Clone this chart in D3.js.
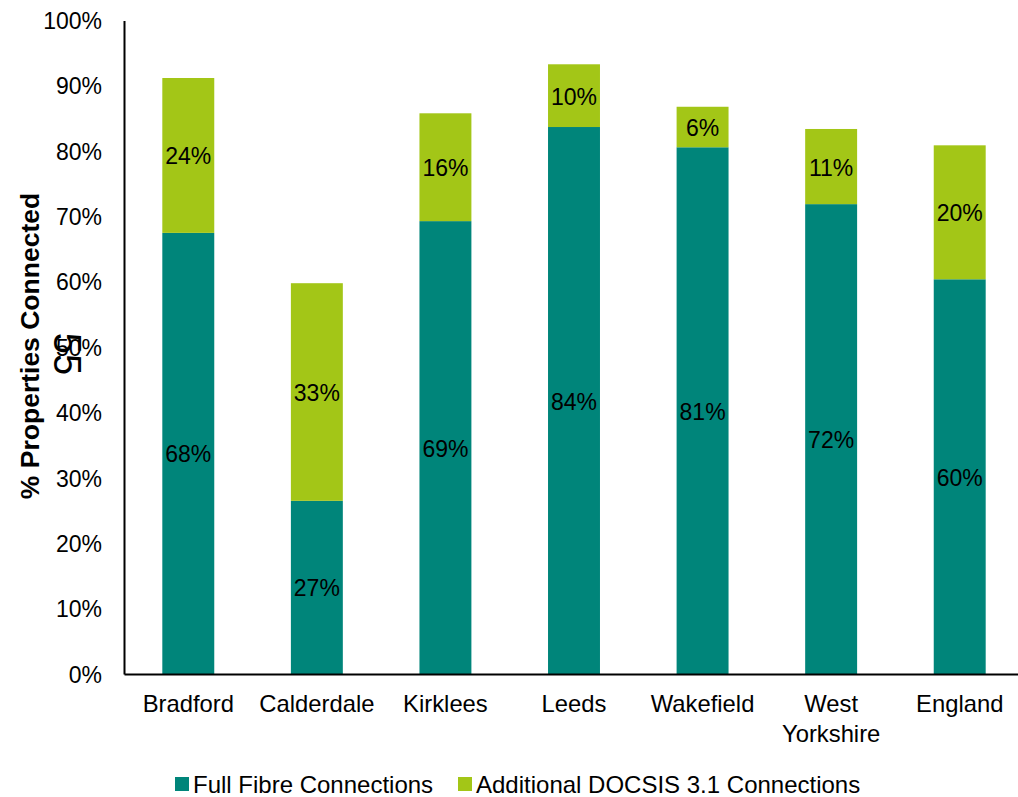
<!DOCTYPE html>
<html>
<head>
<meta charset="utf-8">
<script src="https://cdn.jsdelivr.net/npm/d3@7"></script>
<style>
  html, body { margin: 0; padding: 0; background: #fff; }
  svg { display: block; font-family: Arial, "Liberation Sans", sans-serif; }
</style>
</head>
<body>
<svg id="chart" width="1018" height="797"></svg>
<script>
const categories = ["Bradford", "Calderdale", "Kirklees", "Leeds", "Wakefield", "West Yorkshire", "England"];
const fullFibre = [0.675, 0.265, 0.693, 0.837, 0.806, 0.719, 0.604];
const additionalDocsis = [0.237, 0.333, 0.165, 0.096, 0.062, 0.115, 0.205];
const fullFibreLabels = ["68%", "27%", "69%", "84%", "81%", "72%", "60%"];
const docsisLabels = ["24%", "33%", "16%", "10%", "6%", "11%", "20%"];
const yTicks = [0, 0.1, 0.2, 0.3, 0.4, 0.5, 0.6, 0.7, 0.8, 0.9, 1.0];
const seriesNames = ["Full Fibre Connections", "Additional DOCSIS 3.1 Connections"];
const colors = ["#00857a", "#a3c617"];

const svg = d3.select("#chart");
const x = d3.scaleBand().domain(categories).range([124, 1024]).paddingInner(0.596).paddingOuter(0.298);
const y = d3.scaleLinear().domain([0, 1]).range([674, 20.5]);

const rows = categories.map((c, i) => ({cat: c, ff: fullFibre[i], ad: additionalDocsis[i], ffl: fullFibreLabels[i], adl: docsisLabels[i]}));

// bars
const g = svg.append("g");
g.selectAll("rect.ff").data(rows).join("rect")
  .attr("x", d => x(d.cat)).attr("width", x.bandwidth())
  .attr("y", d => y(d.ff)).attr("height", d => y(0) - y(d.ff))
  .attr("fill", colors[0]);
g.selectAll("rect.ad").data(rows).join("rect")
  .attr("x", d => x(d.cat)).attr("width", x.bandwidth())
  .attr("y", d => y(d.ff + d.ad)).attr("height", d => y(d.ff) - y(d.ff + d.ad))
  .attr("fill", colors[1]);

// data labels
g.selectAll("text.ffl").data(rows).join("text")
  .attr("x", d => x(d.cat) + x.bandwidth() / 2)
  .attr("y", d => (y(0) + y(d.ff)) / 2 + 1)
  .attr("text-anchor", "middle").attr("dominant-baseline", "central")
  .attr("font-size", 23).attr("fill", "#000").text(d => d.ffl);
g.selectAll("text.adl").data(rows).join("text")
  .attr("x", d => x(d.cat) + x.bandwidth() / 2)
  .attr("y", d => (y(d.ff) + y(d.ff + d.ad)) / 2 + 1)
  .attr("text-anchor", "middle").attr("dominant-baseline", "central")
  .attr("font-size", 23).attr("fill", "#000").text(d => d.adl);

// y axis
const yAxis = svg.append("g").attr("transform", "translate(124,0)")
  .call(d3.axisLeft(y).tickValues(yTicks).tickFormat(d3.format(".0%")).tickSize(0).tickPadding(22));
yAxis.select(".domain").attr("stroke", "#000").attr("stroke-width", 2);
yAxis.selectAll("text").attr("font-size", 23).attr("fill", "#000").attr("font-family", "Arial, 'Liberation Sans', sans-serif").attr("dy", "0.35em");

// x axis
const xAxis = svg.append("g").attr("transform", "translate(0,674)")
  .call(d3.axisBottom(x).tickSize(0).tickFormat(""));
xAxis.select(".domain").attr("stroke", "#000").attr("stroke-width", 2);
xAxis.selectAll(".tick").each(function(d) {
  const t = d3.select(this).append("text").attr("text-anchor", "middle")
    .attr("font-size", 23.8).attr("fill", "#000").attr("font-family", "Arial, 'Liberation Sans', sans-serif");
  const parts = d === "West Yorkshire" ? ["West", "Yorkshire"] : [d];
  parts.forEach((p, i) => t.append("tspan").attr("x", 0).attr("y", 38 + i * 30).text(p));
});

// y axis title
svg.append("text")
  .attr("transform", "translate(39,346) rotate(-90)")
  .attr("text-anchor", "middle")
  .attr("font-size", 26.5).attr("font-weight", "bold").attr("fill", "#000")
  .text("% Properties Connected");

// stray page number
svg.append("text")
  .attr("transform", "translate(67,354) rotate(90)")
  .attr("text-anchor", "middle").attr("dominant-baseline", "central")
  .attr("font-size", 38).attr("fill", "#000")
  .text("55");

// legend
const legendItems = [{name: seriesNames[0], color: colors[0], x: 175}, {name: seriesNames[1], color: colors[1], x: 458}];
const lg = svg.append("g");
legendItems.forEach(it => {
  lg.append("rect").attr("x", it.x).attr("y", 777).attr("width", 14).attr("height", 14).attr("fill", it.color);
  lg.append("text").attr("x", it.x + 18).attr("y", 793).attr("font-size", 24).attr("fill", "#000").text(it.name);
});
</script>
</body>
</html>
